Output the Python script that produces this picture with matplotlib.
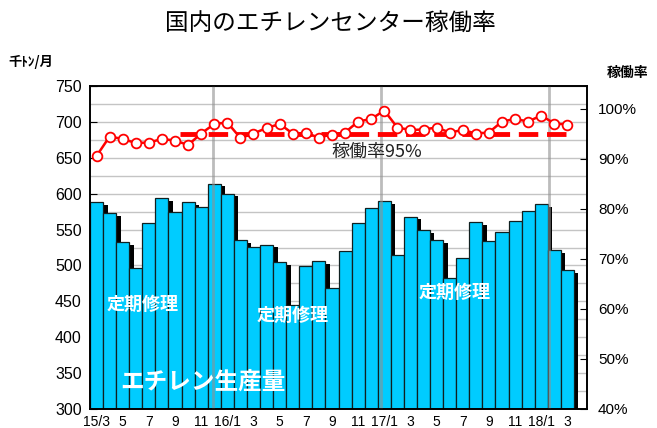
import matplotlib
matplotlib.use("Agg")
import matplotlib.pyplot as plt
import matplotlib.patheffects as pe

plt.rcParams["font.family"] = ["Liberation Sans", "Noto Sans CJK JP", "DejaVu Sans"]
JP = ["Noto Sans CJK JP", "DejaVu Sans"]

# 2015/3 - 2018/3 (one empty slot for 18/4 at the right end)
n_slots = 38
production = [588, 573, 532, 497, 559, 594, 574, 588, 582, 614,
              600, 535, 526, 529, 505, 445, 499, 506, 469, 520,
              559, 580, 590, 514, 568, 549, 535, 482, 511, 560,
              534, 546, 562, 576, 585, 521, 494]
utilization = [90.6, 94.5, 94.0, 93.2, 93.3, 94.0, 93.7, 92.8, 95.1, 97.0,
               97.3, 94.2, 95.1, 96.2, 97.0, 95.1, 95.2, 94.3, 94.9, 95.3,
               97.5, 98.0, 99.7, 96.3, 95.8, 95.9, 96.3, 95.3, 95.8, 95.1,
               95.3, 97.5, 98.0, 97.5, 98.7, 97.1, 96.9]
tick_labels = ["15/3", "5", "7", "9", "11", "16/1", "3", "5", "7", "9",
               "11", "17/1", "3", "5", "7", "9", "11", "18/1", "3"]
year_marks = [8.9, 21.75, 34.6]
target = 95
target_span = (6.4, 36.5)

fig = plt.figure(figsize=(6.57, 4.28), dpi=100)
ax = fig.add_axes([90 / 657, 19 / 428, 497 / 657, 323 / 428])

x = list(range(len(production)))
ax.bar(x, production, width=1.0, color="#00CCFF", edgecolor="#102020",
       linewidth=0.9, zorder=2,
       path_effects=[pe.SimplePatchShadow(offset=(3.2, -2), shadow_rgbFace="black", alpha=1.0),
                     pe.Normal()])

ax.set_xlim(-0.5, n_slots - 0.5)
ax.set_ylim(300, 750)
ax.set_yticks(range(300, 751, 50))
ax.set_yticks(range(325, 750, 50), minor=True)
ax.grid(axis="y", which="both", color="#c4c4c4", linewidth=1.0, zorder=0)
ax.set_axisbelow(True)
ax.set_xticks(range(0, len(production), 2))
ax.set_xticklabels(tick_labels, fontsize=10)
ax.tick_params(axis="x", length=0, pad=4)
ax.tick_params(axis="y", which="major", direction="in", length=5, labelsize=11.5, pad=6)
ax.tick_params(axis="y", which="minor", length=0)
for s in ax.spines.values():
    s.set_linewidth(1.2)

for xm in year_marks:
    ax.axvline(xm, color="#909090", linewidth=2, alpha=0.6, zorder=3)

txt_kw = dict(color="white", fontweight="bold", family=JP, ha="center", va="center", zorder=4)
ax.text(3.5, 445, "定期修理", fontsize=13, **txt_kw)
ax.text(15.0, 430, "定期修理", fontsize=13, **txt_kw)
ax.text(27.4, 463, "定期修理", fontsize=13, **txt_kw)
ax.text(8.1, 338, "エチレン生産量", fontsize=17, **txt_kw)

ax2 = ax.twinx()
ax2.set_ylim(40, 40 + 323 / 5)
ax2.set_yticks(range(40, 101, 10))
ax2.set_yticklabels([f"{v}%" for v in range(40, 101, 10)])
ax2.tick_params(axis="y", direction="in", length=5, labelsize=11, pad=8)
ax2.plot(target_span, [target, target], color="#FF0000", linewidth=3.5,
         dashes=(4, 1.8), solid_capstyle="butt", dash_capstyle="butt", zorder=3)
ax2.plot(x, utilization, color="#FF0000", linewidth=1.8, marker="o", markersize=7,
         markerfacecolor="white", markeredgecolor="#FF0000", markeredgewidth=1.3, zorder=4)
ax2.text(21.4, 91.4, "稼働率95%", fontsize=13, color="#202020", family=JP,
         ha="center", va="center")
for s in ax2.spines.values():
    s.set_linewidth(1.2)

fig.text(330 / 657, 1 - 24 / 428, "国内のエチレンセンター稼働率", fontsize=17, family=JP,
         ha="center", va="center")
fig.text(8 / 657, 1 - 62 / 428, "千ﾄﾝ/月", fontsize=9.5, family=JP, fontweight="bold",
         ha="left", va="center")
fig.text(607 / 657, 1 - 73 / 428, "稼働率", fontsize=10, family=JP, fontweight="bold",
         ha="left", va="center")

fig.savefig("out.png", dpi=100)
